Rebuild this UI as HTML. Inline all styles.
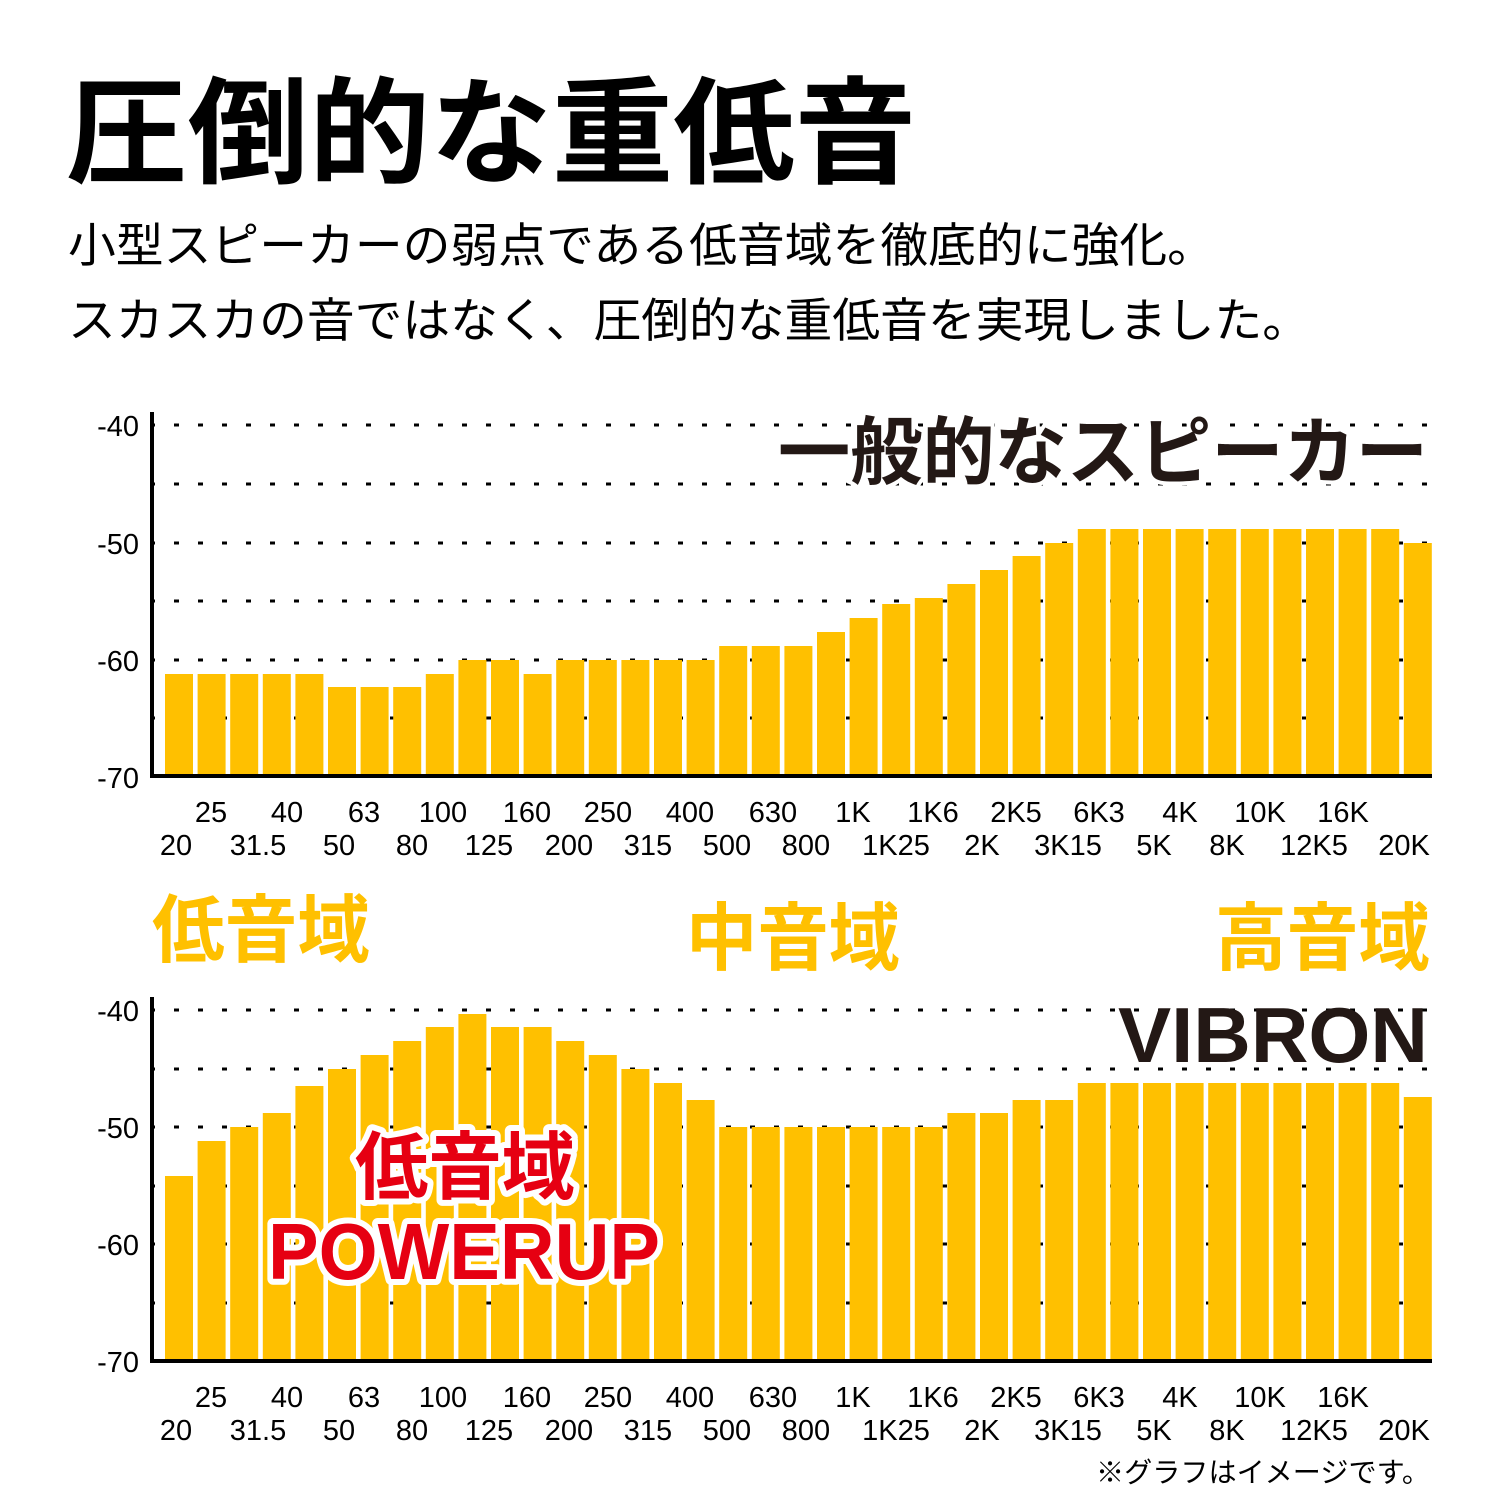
<!DOCTYPE html>
<html><head><meta charset="utf-8"><style>
html,body{margin:0;padding:0;background:#fff;}
svg{display:block;}
text{font-family:"Liberation Sans","Noto Sans CJK JP",sans-serif;}
</style></head><body>
<svg width="1500" height="1500" viewBox="0 0 1500 1500" xmlns="http://www.w3.org/2000/svg">
<rect width="1500" height="1500" fill="#fff"/>
<text x="66" y="174" font-size="116" font-weight="bold" fill="#000" textLength="850" lengthAdjust="spacingAndGlyphs">圧倒的な重低音</text>
<text x="68" y="262" font-size="47" fill="#000" textLength="1147" lengthAdjust="spacingAndGlyphs">小型スピーカーの弱点である低音域を徹底的に強化。</text>
<text x="68" y="337" font-size="47" fill="#000" textLength="1242" lengthAdjust="spacingAndGlyphs">スカスカの音ではなく、圧倒的な重低音を実現しました。</text>

<g stroke="#000" stroke-width="3" stroke-dasharray="5 19">
<line x1="150" y1="425" x2="1432" y2="425"/>
<line x1="150" y1="484" x2="1432" y2="484"/>
<line x1="150" y1="543" x2="1432" y2="543"/>
<line x1="150" y1="601" x2="1432" y2="601"/>
<line x1="150" y1="660" x2="1432" y2="660"/>
<line x1="150" y1="718" x2="1432" y2="718"/>
<line x1="150" y1="1010" x2="1432" y2="1010"/>
<line x1="150" y1="1069" x2="1432" y2="1069"/>
<line x1="150" y1="1127" x2="1432" y2="1127"/>
<line x1="150" y1="1186" x2="1432" y2="1186"/>
<line x1="150" y1="1244" x2="1432" y2="1244"/>
<line x1="150" y1="1303" x2="1432" y2="1303"/>
</g>
<text x="1428" y="478" font-size="74" font-weight="bold" fill="#231815" stroke="#fff" stroke-width="8" paint-order="stroke" text-anchor="end" textLength="650" lengthAdjust="spacingAndGlyphs">一般的なスピーカー</text>
<text x="1428" y="1062" font-size="78" font-weight="bold" fill="#231815" text-anchor="end" textLength="310" lengthAdjust="spacingAndGlyphs">VIBRON</text>

<g fill="#FFC000">
<rect x="165" y="674" width="28" height="101"/>
<rect x="197.6" y="674" width="28" height="101"/>
<rect x="230.2" y="674" width="28" height="101"/>
<rect x="262.8" y="674" width="28" height="101"/>
<rect x="295.4" y="674" width="28" height="101"/>
<rect x="328" y="687" width="28" height="88"/>
<rect x="360.6" y="687" width="28" height="88"/>
<rect x="393.2" y="687" width="28" height="88"/>
<rect x="425.8" y="674" width="28" height="101"/>
<rect x="458.4" y="660" width="28" height="115"/>
<rect x="491" y="660" width="28" height="115"/>
<rect x="523.6" y="674" width="28" height="101"/>
<rect x="556.2" y="660" width="28" height="115"/>
<rect x="588.8" y="660" width="28" height="115"/>
<rect x="621.4" y="660" width="28" height="115"/>
<rect x="654" y="660" width="28" height="115"/>
<rect x="686.6" y="660" width="28" height="115"/>
<rect x="719.2" y="646" width="28" height="129"/>
<rect x="751.8" y="646" width="28" height="129"/>
<rect x="784.4" y="646" width="28" height="129"/>
<rect x="817" y="632" width="28" height="143"/>
<rect x="849.6" y="618" width="28" height="157"/>
<rect x="882.2" y="604" width="28" height="171"/>
<rect x="914.8" y="598" width="28" height="177"/>
<rect x="947.4" y="584" width="28" height="191"/>
<rect x="980" y="570" width="28" height="205"/>
<rect x="1012.6" y="556" width="28" height="219"/>
<rect x="1045.2" y="543" width="28" height="232"/>
<rect x="1077.8" y="529" width="28" height="246"/>
<rect x="1110.4" y="529" width="28" height="246"/>
<rect x="1143" y="529" width="28" height="246"/>
<rect x="1175.6" y="529" width="28" height="246"/>
<rect x="1208.2" y="529" width="28" height="246"/>
<rect x="1240.8" y="529" width="28" height="246"/>
<rect x="1273.4" y="529" width="28" height="246"/>
<rect x="1306" y="529" width="28" height="246"/>
<rect x="1338.6" y="529" width="28" height="246"/>
<rect x="1371.2" y="529" width="28" height="246"/>
<rect x="1403.8" y="543" width="28" height="232"/>

<rect x="165" y="1176" width="28" height="184"/>
<rect x="197.6" y="1141" width="28" height="219"/>
<rect x="230.2" y="1127" width="28" height="233"/>
<rect x="262.8" y="1113" width="28" height="247"/>
<rect x="295.4" y="1086" width="28" height="274"/>
<rect x="328" y="1069" width="28" height="291"/>
<rect x="360.6" y="1055" width="28" height="305"/>
<rect x="393.2" y="1041" width="28" height="319"/>
<rect x="425.8" y="1027" width="28" height="333"/>
<rect x="458.4" y="1014" width="28" height="346"/>
<rect x="491" y="1027" width="28" height="333"/>
<rect x="523.6" y="1027" width="28" height="333"/>
<rect x="556.2" y="1041" width="28" height="319"/>
<rect x="588.8" y="1055" width="28" height="305"/>
<rect x="621.4" y="1069" width="28" height="291"/>
<rect x="654" y="1083" width="28" height="277"/>
<rect x="686.6" y="1100" width="28" height="260"/>
<rect x="719.2" y="1127" width="28" height="233"/>
<rect x="751.8" y="1127" width="28" height="233"/>
<rect x="784.4" y="1127" width="28" height="233"/>
<rect x="817" y="1127" width="28" height="233"/>
<rect x="849.6" y="1127" width="28" height="233"/>
<rect x="882.2" y="1127" width="28" height="233"/>
<rect x="914.8" y="1127" width="28" height="233"/>
<rect x="947.4" y="1113" width="28" height="247"/>
<rect x="980" y="1113" width="28" height="247"/>
<rect x="1012.6" y="1100" width="28" height="260"/>
<rect x="1045.2" y="1100" width="28" height="260"/>
<rect x="1077.8" y="1083" width="28" height="277"/>
<rect x="1110.4" y="1083" width="28" height="277"/>
<rect x="1143" y="1083" width="28" height="277"/>
<rect x="1175.6" y="1083" width="28" height="277"/>
<rect x="1208.2" y="1083" width="28" height="277"/>
<rect x="1240.8" y="1083" width="28" height="277"/>
<rect x="1273.4" y="1083" width="28" height="277"/>
<rect x="1306" y="1083" width="28" height="277"/>
<rect x="1338.6" y="1083" width="28" height="277"/>
<rect x="1371.2" y="1083" width="28" height="277"/>
<rect x="1403.8" y="1097" width="28" height="263"/>
</g>

<g fill="#000">
<rect x="150" y="412" width="4" height="366"/>
<rect x="150" y="774" width="1282" height="4"/>
<rect x="150" y="997" width="4" height="366"/>
<rect x="150" y="1359" width="1282" height="4"/>
</g>

<g font-size="29" fill="#000" text-anchor="end">
<text x="139" y="436">-40</text>
<text x="139" y="554">-50</text>
<text x="139" y="671">-60</text>
<text x="139" y="788">-70</text>
<text x="139" y="1021">-40</text>
<text x="139" y="1138">-50</text>
<text x="139" y="1255">-60</text>
<text x="139" y="1372">-70</text>
</g>

<g font-size="29" fill="#000" text-anchor="middle">
<g>
<text x="211" y="822">25</text><text x="287" y="822">40</text><text x="364" y="822">63</text><text x="443" y="822">100</text><text x="527" y="822">160</text><text x="608" y="822">250</text><text x="690" y="822">400</text><text x="773" y="822">630</text><text x="853" y="822">1K</text><text x="933" y="822">1K6</text><text x="1016" y="822">2K5</text><text x="1099" y="822">6K3</text><text x="1180" y="822">4K</text><text x="1260" y="822">10K</text><text x="1343" y="822">16K</text>
<text x="176" y="855">20</text><text x="258" y="855">31.5</text><text x="339" y="855">50</text><text x="412" y="855">80</text><text x="489" y="855">125</text><text x="569" y="855">200</text><text x="648" y="855">315</text><text x="727" y="855">500</text><text x="806" y="855">800</text><text x="896" y="855">1K25</text><text x="982" y="855">2K</text><text x="1068" y="855">3K15</text><text x="1154" y="855">5K</text><text x="1227" y="855">8K</text><text x="1314" y="855">12K5</text><text x="1404" y="855">20K</text>
</g>
<g transform="translate(0,585)">
<text x="211" y="822">25</text><text x="287" y="822">40</text><text x="364" y="822">63</text><text x="443" y="822">100</text><text x="527" y="822">160</text><text x="608" y="822">250</text><text x="690" y="822">400</text><text x="773" y="822">630</text><text x="853" y="822">1K</text><text x="933" y="822">1K6</text><text x="1016" y="822">2K5</text><text x="1099" y="822">6K3</text><text x="1180" y="822">4K</text><text x="1260" y="822">10K</text><text x="1343" y="822">16K</text>
<text x="176" y="855">20</text><text x="258" y="855">31.5</text><text x="339" y="855">50</text><text x="412" y="855">80</text><text x="489" y="855">125</text><text x="569" y="855">200</text><text x="648" y="855">315</text><text x="727" y="855">500</text><text x="806" y="855">800</text><text x="896" y="855">1K25</text><text x="982" y="855">2K</text><text x="1068" y="855">3K15</text><text x="1154" y="855">5K</text><text x="1227" y="855">8K</text><text x="1314" y="855">12K5</text><text x="1404" y="855">20K</text>
</g>
</g>

<g font-size="74" font-weight="bold" fill="#FFC000">
<text x="152" y="956" textLength="218" lengthAdjust="spacingAndGlyphs">低音域</text>
<text x="686" y="964" textLength="214" lengthAdjust="spacingAndGlyphs">中音域</text>
<text x="1215" y="964" textLength="215" lengthAdjust="spacingAndGlyphs">高音域</text>
</g>

<g font-weight="bold" fill="#E60012" stroke="#fff" stroke-width="12" stroke-linejoin="round" paint-order="stroke">
<text x="355" y="1193" font-size="74" textLength="220" lengthAdjust="spacingAndGlyphs">低音域</text>
<text x="268" y="1279" font-size="80" textLength="392" lengthAdjust="spacingAndGlyphs">POWERUP</text>
</g>

<text x="1430" y="1482" font-size="28" fill="#000" text-anchor="end" textLength="334" lengthAdjust="spacingAndGlyphs">※グラフはイメージです。</text>
</svg>
</body></html>
